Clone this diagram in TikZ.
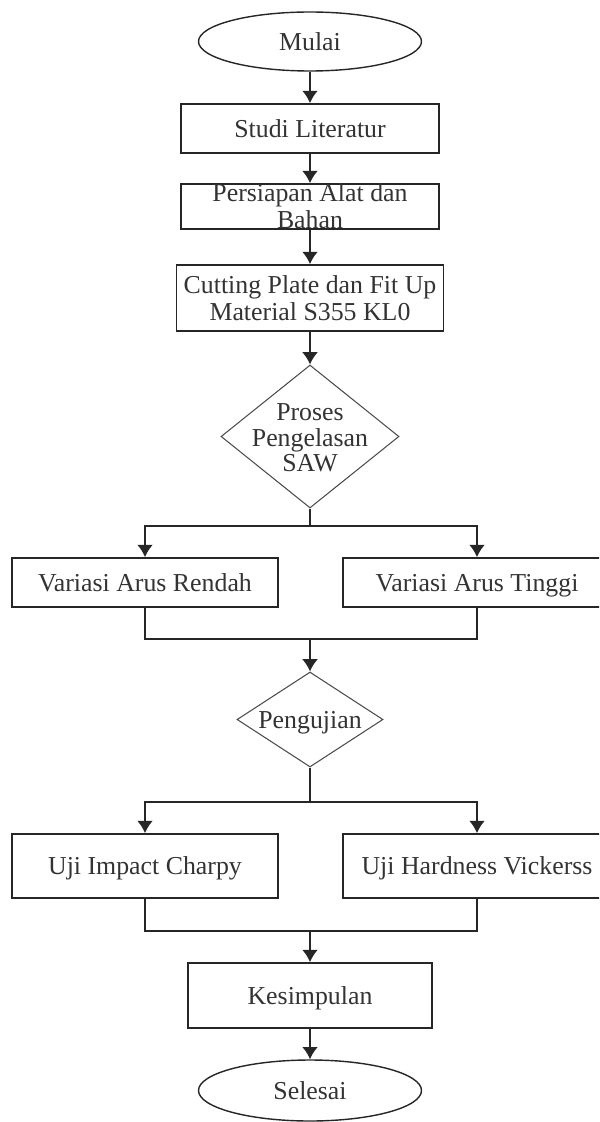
\documentclass[tikz,border=0pt]{standalone}
\usepackage{fontspec}
\setmainfont{Liberation Serif}
\usetikzlibrary{shapes.geometric, arrows.meta}
\colorlet{lineGray}{black!85}
\colorlet{textGray}{black!80}

\begin{document}
\begin{tikzpicture}[
		box/.style = {draw = lineGray, line width = 1pt, rectangle, inner sep = 0pt, align = center, text = textGray, font = \fontsize{14.7}{15.2}\selectfont},
		oneline/.style = {text height = 12pt, text depth = 1.8pt},
		terminal/.style = {draw = lineGray, line width = 0.8pt, ellipse, inner sep = 0pt, minimum width = 4.46cm, minimum height = 1.18cm, text = textGray, font = \fontsize{14.7}{15.2}\selectfont},
		decision/.style = {draw = black!70, line width = 0.6pt, diamond, inner sep = 0pt},
		dtext/.style = {inner sep = 0pt, align = center, text = textGray, font = \fontsize{14.7}{14.5}\selectfont},
		arr/.style = {draw = lineGray, line width = 1pt, -{Latex[length = 7pt, width = 9pt]}},
		link/.style = {draw = lineGray, line width = 1pt}
	]
		\clip (0, 0) rectangle (11.98, -22.44);
		%%%%%%%%%%%%%
		\node[terminal, oneline] (mulai) at (6.2, -0.83) {Mulai};
		\node[box, oneline, minimum width = 5.16cm, minimum height = 0.98cm] (studi) at (6.2, -2.57) {Studi Literatur};
		\node[box, minimum width = 5.16cm, minimum height = 0.78cm] (persiapan) at (6.2, -4.13) {Persiapan Alat dan\\Bahan};
		\node[box, minimum width = 5.34cm, minimum height = 1.32cm] (cutting) at (6.2, -5.96) {Cutting Plate dan Fit Up\\Material S355 KL0};
		\node[decision, minimum width = 3.56cm, minimum height = 2.86cm] (proses) at (6.2, -8.73) {};
		\node[dtext] (prosesT) at (6.2, -8.76) {Proses\\Pengelasan\\SAW};
		\coordinate (split1) at (6.2, -10.52);
		\node[box, oneline, minimum width = 5.32cm, minimum height = 0.98cm] (rendah) at (2.9, -11.65) {Variasi Arus Rendah};
		\node[box, oneline, minimum width = 5.36cm, minimum height = 0.98cm] (tinggi) at (9.54, -11.65) {Variasi Arus Tinggi};
		\coordinate (merge1) at (6.2, -12.78);
		%%%%%%%%%%%%%
		\node[decision, minimum width = 2.92cm, minimum height = 1.9cm] (uji) at (6.2, -14.39) {};
		\node[dtext, oneline] (ujiT) at (uji) {Pengujian};
		\coordinate (split2) at (6.2, -16.04);
		\node[box, oneline, minimum width = 5.32cm, minimum height = 1.28cm] (charpy) at (2.9, -17.32) {Uji Impact Charpy};
		\node[box, oneline, minimum width = 5.36cm, minimum height = 1.28cm] (vickers) at (9.54, -17.32) {Uji Hardness Vickerss};
		\coordinate (merge2) at (6.2, -18.62);
		\node[box, oneline, minimum width = 4.88cm, minimum height = 1.3cm] (kesimpulan) at (6.2, -19.91) {Kesimpulan};
		\node[terminal, oneline, minimum height = 1.22cm] (selesai) at (6.2, -21.81) {Selesai};
		%%%%%%%%%%%%%
		\draw[arr] (mulai.south) to (studi.north);
		\draw[arr] (studi.south) to (persiapan.north);
		\draw[arr] (persiapan.south) to (cutting.north);
		\draw[arr] (cutting.south) to (proses.north);
		\draw[link] (proses.south) to (split1);
		\draw[arr] (split1) -| (rendah.north); \draw[arr] (split1) -| (tinggi.north);
		\draw[link] (rendah.south) |- (merge1); \draw[link] (tinggi.south) |- (merge1);
		\draw[arr] (merge1) to (uji.north);
		%%%%%%%%%%%%%%%%%%%%%%
		\draw[link] (uji.south) to (split2);
		\draw[arr] (split2) -| (charpy.north); \draw[arr] (split2) -| (vickers.north);
		\draw[link] (charpy.south) |- (merge2); \draw[link] (vickers.south) |- (merge2);
		\draw[arr] (merge2) to (kesimpulan.north);
		\draw[arr] (kesimpulan.south) to (selesai.north);
\end{tikzpicture}
\end{document}
